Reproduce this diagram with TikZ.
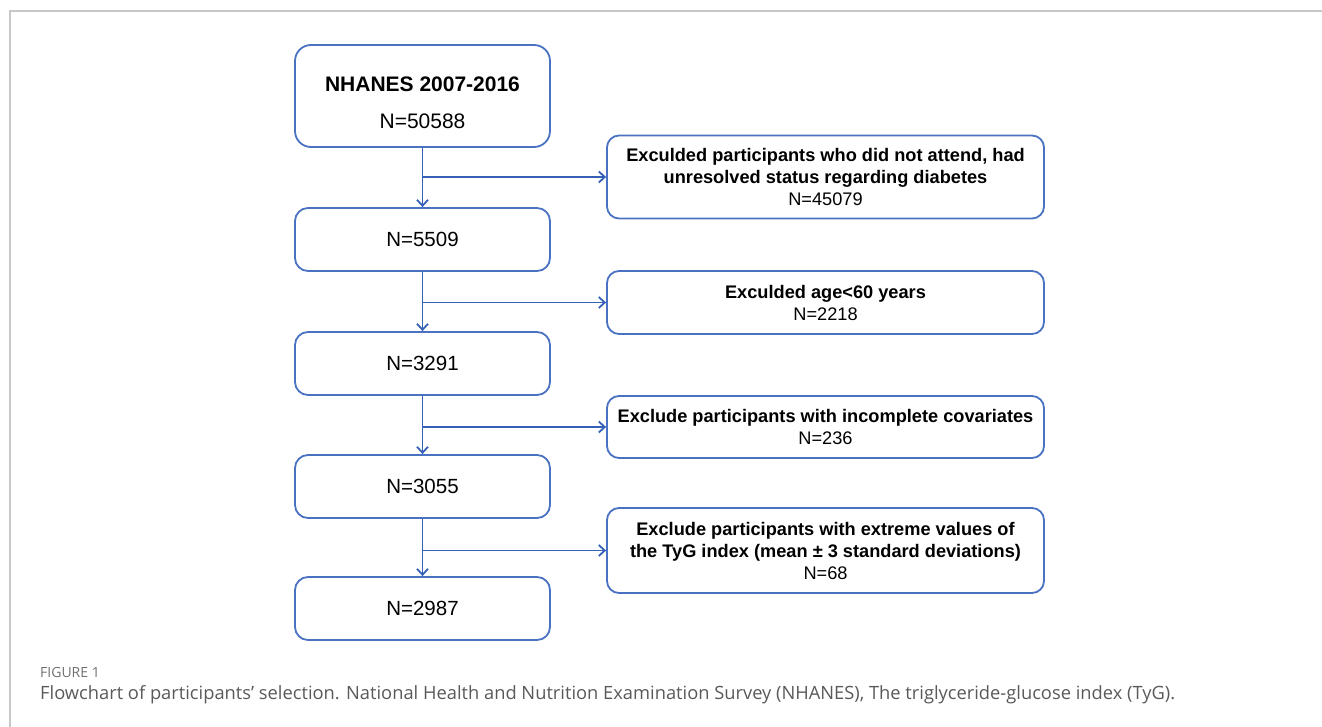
\documentclass[tikz,border=0pt]{standalone}
\usepackage{fontspec}
\setmainfont{Liberation Sans}
\newfontfamily\capfont{Open Sans}
\usetikzlibrary{arrows.meta}
\definecolor{boxblue}{HTML}{4A72C2}
\definecolor{lineblue}{HTML}{3461B6}
\definecolor{framegray}{HTML}{C8C8C8}
\definecolor{capgray}{HTML}{595959}
\definecolor{figgray}{HTML}{707070}
\begin{document}
\begin{tikzpicture}[x=1pt,y=-1pt,
  leftbox/.style={draw=boxblue,line width=1.8pt,rounded corners=13pt,minimum width=255pt,align=center,inner sep=0pt},
  rightbox/.style={draw=boxblue,line width=1.8pt,rounded corners=12pt,minimum width=437pt,align=center,inner sep=0pt,font=\fontsize{18.2}{22}\selectfont},
  numtext/.style={font=\fontsize{20.5}{24}\selectfont},
  arr/.style={draw=lineblue,line width=1.9pt,-{Straight Barb[length=6pt,width=11pt,line width=1.8pt]}}
]
\useasboundingbox (0,0) rectangle (1322,727);
\draw[framegray,line width=1.2pt] (10,727) -- (10,11) -- (1322,11);

\node[leftbox,minimum height=102pt,rounded corners=16pt] (b1) at (422.5,96) {};
\node[align=center,inner sep=0pt,font=\fontsize{21}{37}\selectfont] (b1t) at (422.5,103) {\textbf{NHANES 2007-2016}\\N=50588};
\node[leftbox,minimum height=63pt,numtext] (b2) at (422.5,239.5) {N=5509};
\node[leftbox,minimum height=63pt,numtext] (b3) at (422.5,363.5) {N=3291};
\node[leftbox,minimum height=63pt,numtext] (b4) at (422.5,486.5) {N=3055};
\node[leftbox,minimum height=63pt,numtext] (b5) at (422.5,608.5) {N=2987};

\node[rightbox,minimum height=83pt] (r1) at (825.5,177) {\textbf{Exculded participants who did not attend, had}\\\textbf{unresolved status regarding diabetes}\\N=45079};
\node[rightbox,minimum height=63pt] (r2) at (825.5,302.5) {\textbf{Exculded age<60 years}\\N=2218};
\node[rightbox,minimum height=62pt] (r3) at (825.5,427) {\textbf{Exclude participants with incomplete covariates}\\N=236};
\node[rightbox,minimum height=85pt] (r4) at (825.5,550.5) {\textbf{Exclude participants with extreme values of}\\\textbf{the TyG index (mean ± 3 standard deviations)}\\N=68};

\draw[arr] (b1.south) -- (b2.north);
\draw[arr] (b2.south) -- (b3.north);
\draw[arr] (b3.south) -- (b4.north);
\draw[arr] (b4.south) -- (b5.north);
\draw[arr] (b1.south |- r1.west) -- (r1.west);
\draw[arr] (b2.south |- r2.west) -- (r2.west);
\draw[arr] (b3.south |- r3.west) -- (r3.west);
\draw[arr] (b4.south |- r4.west) -- (r4.west);

\node[anchor=west,inner sep=0pt,text=figgray,font=\capfont\fontsize{14}{16}\selectfont] (fig) at (40,672) {FIGURE 1};
\node[anchor=west,inner sep=0pt,text=capgray,font=\capfont\fontsize{18.3}{21}\selectfont] (cap) at (40,695) {Flowchart of participants’ selection. National Health and Nutrition Examination Survey (NHANES), The triglyceride-glucose index (TyG).};
\end{tikzpicture}
\end{document}
